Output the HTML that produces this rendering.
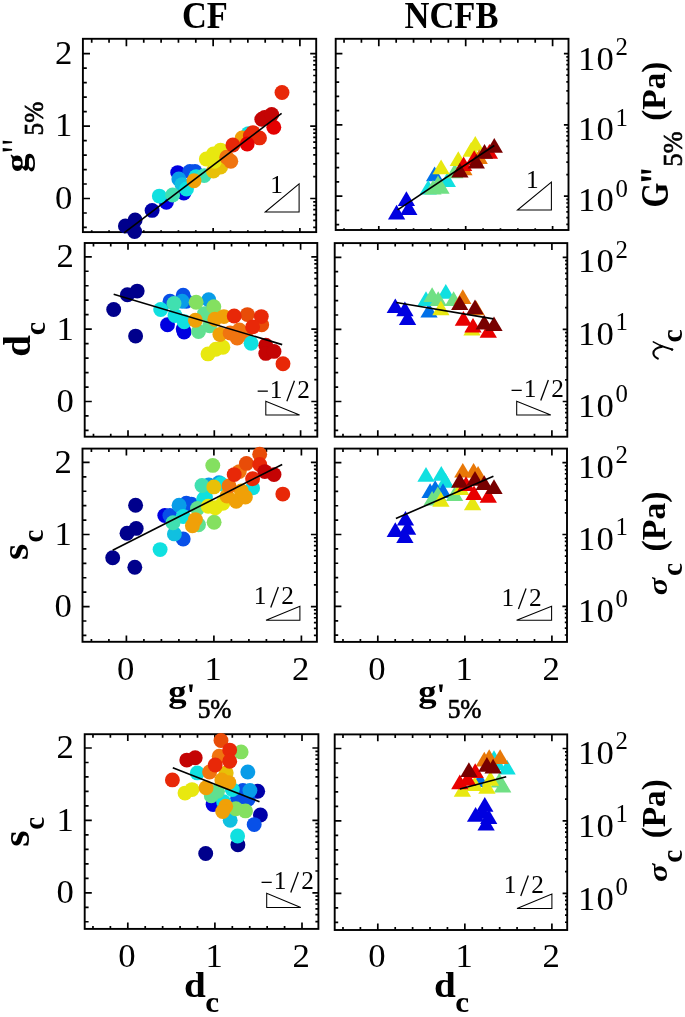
<!DOCTYPE html>
<html><head><meta charset="utf-8"><title>figure</title>
<style>html,body{margin:0;padding:0;background:#fff}svg{display:block}text{font-family:"Liberation Serif",serif;fill:#000}.b{font-weight:bold}</style></head><body>
<svg style="will-change:transform" width="685" height="1017" viewBox="0 0 685 1017">
<rect width="685" height="1017" fill="#fff"/>
<path d="M91.7 232.1v-1.8M91.7 38.8v4M109.05 232.1v-1.8M109.05 38.8v4M126.4 232.1v-4M126.4 38.8v7.5M143.75 232.1v-1.8M143.75 38.8v4M161.1 232.1v-1.8M161.1 38.8v4M178.45 232.1v-1.8M178.45 38.8v4M195.8 232.1v-1.8M195.8 38.8v4M213.15 232.1v-4M213.15 38.8v7.5M230.5 232.1v-1.8M230.5 38.8v4M247.85 232.1v-1.8M247.85 38.8v4M265.2 232.1v-1.8M265.2 38.8v4M282.55 232.1v-1.8M282.55 38.8v4M299.9 232.1v-4M299.9 38.8v7.5M82.9 227.46h3.9M82.9 212.98h3.9M82.9 198.5h7.1M82.9 184.02h3.9M82.9 169.54h3.9M82.9 155.06h3.9M82.9 140.58h3.9M82.9 126.1h7.1M82.9 111.62h3.9M82.9 97.14h3.9M82.9 82.66h3.9M82.9 68.18h3.9M82.9 53.7h7.1M316.2 227.31h-3M316.2 220.29h-3M316.2 214.56h-3M316.2 209.71h-3M316.2 205.52h-3M316.2 201.81h-3M316.2 198.5h-6M316.2 176.71h-3M316.2 163.96h-3M316.2 154.91h-3M316.2 147.89h-3M316.2 142.16h-3M316.2 137.31h-3M316.2 133.12h-3M316.2 129.41h-3M316.2 126.1h-6M316.2 104.31h-3M316.2 91.56h-3M316.2 82.51h-3M316.2 75.49h-3M316.2 69.76h-3M316.2 64.91h-3M316.2 60.72h-3M316.2 57.01h-3M316.2 53.7h-6" stroke="#000" stroke-width="1.7" fill="none"/>
<rect x="82.9" y="38.8" width="233.3" height="193.3" fill="none" stroke="#000" stroke-width="1.9"/>
<path d="M344.04 230v-1.8M344.04 38.8v4M361.42 230v-1.8M361.42 38.8v4M378.8 230v-4M378.8 38.8v7.5M396.18 230v-1.8M396.18 38.8v4M413.56 230v-1.8M413.56 38.8v4M430.94 230v-1.8M430.94 38.8v4M448.32 230v-1.8M448.32 38.8v4M465.7 230v-4M465.7 38.8v7.5M483.08 230v-1.8M483.08 38.8v4M500.46 230v-1.8M500.46 38.8v4M517.84 230v-1.8M517.84 38.8v4M535.22 230v-1.8M535.22 38.8v4M552.6 230v-4M552.6 38.8v7.5M335.7 224.6h3.5M335.7 210.35h3.5M335.7 196.1h6.7M335.7 181.85h3.5M335.7 167.6h3.5M335.7 153.35h3.5M335.7 139.1h3.5M335.7 124.85h6.7M335.7 110.6h3.5M335.7 96.35h3.5M335.7 82.1h3.5M335.7 67.85h3.5M335.7 53.6h6.7M568.5 224.45h-2.2M568.5 217.55h-2.2M568.5 211.91h-2.2M568.5 207.14h-2.2M568.5 203h-2.2M568.5 199.36h-2.2M568.5 196.1h-4.6M568.5 174.65h-2.2M568.5 162.11h-2.2M568.5 153.2h-2.2M568.5 146.3h-2.2M568.5 140.66h-2.2M568.5 135.89h-2.2M568.5 131.75h-2.2M568.5 128.11h-2.2M568.5 124.85h-4.6M568.5 103.4h-2.2M568.5 90.86h-2.2M568.5 81.95h-2.2M568.5 75.05h-2.2M568.5 69.41h-2.2M568.5 64.64h-2.2M568.5 60.5h-2.2M568.5 56.86h-2.2M568.5 53.6h-4.6" stroke="#000" stroke-width="1.7" fill="none"/>
<rect x="335.7" y="38.8" width="232.8" height="191.2" fill="none" stroke="#000" stroke-width="1.9"/>
<path d="M93.48 436.7v-2.9M93.48 243v3.5M110.74 436.7v-2.9M110.74 243v3.5M128 436.7v-6.4M128 243v6.8M145.26 436.7v-2.9M145.26 243v3.5M162.52 436.7v-2.9M162.52 243v3.5M179.78 436.7v-2.9M179.78 243v3.5M197.04 436.7v-2.9M197.04 243v3.5M214.3 436.7v-6.4M214.3 243v6.8M231.56 436.7v-2.9M231.56 243v3.5M248.82 436.7v-2.9M248.82 243v3.5M266.08 436.7v-2.9M266.08 243v3.5M283.34 436.7v-2.9M283.34 243v3.5M300.6 436.7v-6.4M300.6 243v6.8M84.7 430.44h3.9M84.7 415.97h3.9M84.7 401.5h7.1M84.7 387.03h3.9M84.7 372.56h3.9M84.7 358.09h3.9M84.7 343.62h3.9M84.7 329.15h7.1M84.7 314.68h3.9M84.7 300.21h3.9M84.7 285.74h3.9M84.7 271.27h3.9M84.7 256.8h7.1M317.3 430.29h-3M317.3 423.28h-3M317.3 417.55h-3M317.3 412.71h-3M317.3 408.51h-3M317.3 404.81h-3M317.3 401.5h-6M317.3 379.72h-3M317.3 366.98h-3M317.3 357.94h-3M317.3 350.93h-3M317.3 345.2h-3M317.3 340.36h-3M317.3 336.16h-3M317.3 332.46h-3M317.3 329.15h-6M317.3 307.37h-3M317.3 294.63h-3M317.3 285.59h-3M317.3 278.58h-3M317.3 272.85h-3M317.3 268.01h-3M317.3 263.81h-3M317.3 260.11h-3M317.3 256.8h-6" stroke="#000" stroke-width="1.7" fill="none"/>
<rect x="84.7" y="243" width="232.6" height="193.7" fill="none" stroke="#000" stroke-width="1.9"/>
<path d="M342.98 436.7v-2.9M342.98 243.1v3.5M360.39 436.7v-2.9M360.39 243.1v3.5M377.8 436.7v-6.4M377.8 243.1v6.8M395.21 436.7v-2.9M395.21 243.1v3.5M412.62 436.7v-2.9M412.62 243.1v3.5M430.03 436.7v-2.9M430.03 243.1v3.5M447.44 436.7v-2.9M447.44 243.1v3.5M464.85 436.7v-6.4M464.85 243.1v6.8M482.26 436.7v-2.9M482.26 243.1v3.5M499.67 436.7v-2.9M499.67 243.1v3.5M517.08 436.7v-2.9M517.08 243.1v3.5M534.49 436.7v-2.9M534.49 243.1v3.5M551.9 436.7v-6.4M551.9 243.1v6.8M334.7 430.34h3.5M334.7 415.92h3.5M334.7 401.5h6.7M334.7 387.08h3.5M334.7 372.66h3.5M334.7 358.24h3.5M334.7 343.82h3.5M334.7 329.4h6.7M334.7 314.98h3.5M334.7 300.56h3.5M334.7 286.14h3.5M334.7 271.72h3.5M334.7 257.3h6.7M567.3 430.19h-2.2M567.3 423.2h-2.2M567.3 417.5h-2.2M567.3 412.67h-2.2M567.3 408.49h-2.2M567.3 404.8h-2.2M567.3 401.5h-4.6M567.3 379.8h-2.2M567.3 367.1h-2.2M567.3 358.09h-2.2M567.3 351.1h-2.2M567.3 345.4h-2.2M567.3 340.57h-2.2M567.3 336.39h-2.2M567.3 332.7h-2.2M567.3 329.4h-4.6M567.3 307.7h-2.2M567.3 295h-2.2M567.3 285.99h-2.2M567.3 279h-2.2M567.3 273.3h-2.2M567.3 268.47h-2.2M567.3 264.29h-2.2M567.3 260.6h-2.2M567.3 257.3h-4.6" stroke="#000" stroke-width="1.7" fill="none"/>
<rect x="334.7" y="243.1" width="232.6" height="193.6" fill="none" stroke="#000" stroke-width="1.9"/>
<path d="M91.4 641.8v-2.9M91.4 448.6v3.5M108.9 641.8v-2.9M108.9 448.6v3.5M126.4 641.8v-6.4M126.4 448.6v6.8M143.9 641.8v-2.9M143.9 448.6v3.5M161.4 641.8v-2.9M161.4 448.6v3.5M178.9 641.8v-2.9M178.9 448.6v3.5M196.4 641.8v-2.9M196.4 448.6v3.5M213.9 641.8v-6.4M213.9 448.6v6.8M231.4 641.8v-2.9M231.4 448.6v3.5M248.9 641.8v-2.9M248.9 448.6v3.5M266.4 641.8v-2.9M266.4 448.6v3.5M283.9 641.8v-2.9M283.9 448.6v3.5M301.4 641.8v-6.4M301.4 448.6v6.8M82.5 635.44h3.9M82.5 621.02h3.9M82.5 606.6h7.1M82.5 592.18h3.9M82.5 577.76h3.9M82.5 563.34h3.9M82.5 548.92h3.9M82.5 534.5h7.1M82.5 520.08h3.9M82.5 505.66h3.9M82.5 491.24h3.9M82.5 476.82h3.9M82.5 462.4h7.1M316.9 635.29h-3M316.9 628.3h-3M316.9 622.6h-3M316.9 617.77h-3M316.9 613.59h-3M316.9 609.9h-3M316.9 606.6h-6M316.9 584.9h-3M316.9 572.2h-3M316.9 563.19h-3M316.9 556.2h-3M316.9 550.5h-3M316.9 545.67h-3M316.9 541.49h-3M316.9 537.8h-3M316.9 534.5h-6M316.9 512.8h-3M316.9 500.1h-3M316.9 491.09h-3M316.9 484.1h-3M316.9 478.4h-3M316.9 473.57h-3M316.9 469.39h-3M316.9 465.7h-3M316.9 462.4h-6" stroke="#000" stroke-width="1.7" fill="none"/>
<rect x="82.5" y="448.6" width="234.4" height="193.2" fill="none" stroke="#000" stroke-width="1.9"/>
<path d="M342.98 641.9v-2.9M342.98 448.6v3.5M360.39 641.9v-2.9M360.39 448.6v3.5M377.8 641.9v-6.4M377.8 448.6v6.8M395.21 641.9v-2.9M395.21 448.6v3.5M412.62 641.9v-2.9M412.62 448.6v3.5M430.03 641.9v-2.9M430.03 448.6v3.5M447.44 641.9v-2.9M447.44 448.6v3.5M464.85 641.9v-6.4M464.85 448.6v6.8M482.26 641.9v-2.9M482.26 448.6v3.5M499.67 641.9v-2.9M499.67 448.6v3.5M517.08 641.9v-2.9M517.08 448.6v3.5M534.49 641.9v-2.9M534.49 448.6v3.5M551.9 641.9v-6.4M551.9 448.6v6.8M334.7 635.16h3.5M334.7 620.78h3.5M334.7 606.4h6.7M334.7 592.02h3.5M334.7 577.64h3.5M334.7 563.26h3.5M334.7 548.88h3.5M334.7 534.5h6.7M334.7 520.12h3.5M334.7 505.74h3.5M334.7 491.36h3.5M334.7 476.98h3.5M334.7 462.6h6.7M567 635.01h-2.2M567 628.04h-2.2M567 622.35h-2.2M567 617.54h-2.2M567 613.37h-2.2M567 609.69h-2.2M567 606.4h-4.6M567 584.76h-2.2M567 572.09h-2.2M567 563.11h-2.2M567 556.14h-2.2M567 550.45h-2.2M567 545.64h-2.2M567 541.47h-2.2M567 537.79h-2.2M567 534.5h-4.6M567 512.86h-2.2M567 500.19h-2.2M567 491.21h-2.2M567 484.24h-2.2M567 478.55h-2.2M567 473.74h-2.2M567 469.57h-2.2M567 465.89h-2.2M567 462.6h-4.6" stroke="#000" stroke-width="1.7" fill="none"/>
<rect x="334.7" y="448.6" width="232.3" height="193.3" fill="none" stroke="#000" stroke-width="1.9"/>
<path d="M92.96 928.9v-2.9M92.96 734.2v3.5M110.38 928.9v-2.9M110.38 734.2v3.5M127.8 928.9v-6.4M127.8 734.2v6.8M145.22 928.9v-2.9M145.22 734.2v3.5M162.64 928.9v-2.9M162.64 734.2v3.5M180.06 928.9v-2.9M180.06 734.2v3.5M197.48 928.9v-2.9M197.48 734.2v3.5M214.9 928.9v-6.4M214.9 734.2v6.8M232.32 928.9v-2.9M232.32 734.2v3.5M249.74 928.9v-2.9M249.74 734.2v3.5M267.16 928.9v-2.9M267.16 734.2v3.5M284.58 928.9v-2.9M284.58 734.2v3.5M302 928.9v-6.4M302 734.2v6.8M84.7 921.76h3.9M84.7 907.28h3.9M84.7 892.8h7.1M84.7 878.32h3.9M84.7 863.84h3.9M84.7 849.36h3.9M84.7 834.88h3.9M84.7 820.4h7.1M84.7 805.92h3.9M84.7 791.44h3.9M84.7 776.96h3.9M84.7 762.48h3.9M84.7 748h7.1M318.4 921.61h-3M318.4 914.59h-3M318.4 908.86h-3M318.4 904.01h-3M318.4 899.82h-3M318.4 896.11h-3M318.4 892.8h-6M318.4 871.01h-3M318.4 858.26h-3M318.4 849.21h-3M318.4 842.19h-3M318.4 836.46h-3M318.4 831.61h-3M318.4 827.42h-3M318.4 823.71h-3M318.4 820.4h-6M318.4 798.61h-3M318.4 785.86h-3M318.4 776.81h-3M318.4 769.79h-3M318.4 764.06h-3M318.4 759.21h-3M318.4 755.02h-3M318.4 751.31h-3M318.4 748h-6" stroke="#000" stroke-width="1.7" fill="none"/>
<rect x="84.7" y="734.2" width="233.7" height="194.7" fill="none" stroke="#000" stroke-width="1.9"/>
<path d="M342.98 930v-2.9M342.98 734.4v3.5M360.39 930v-2.9M360.39 734.4v3.5M377.8 930v-6.4M377.8 734.4v6.8M395.21 930v-2.9M395.21 734.4v3.5M412.62 930v-2.9M412.62 734.4v3.5M430.03 930v-2.9M430.03 734.4v3.5M447.44 930v-2.9M447.44 734.4v3.5M464.85 930v-6.4M464.85 734.4v6.8M482.26 930v-2.9M482.26 734.4v3.5M499.67 930v-2.9M499.67 734.4v3.5M517.08 930v-2.9M517.08 734.4v3.5M534.49 930v-2.9M534.49 734.4v3.5M551.9 930v-6.4M551.9 734.4v6.8M334.7 922.38h3.5M334.7 907.89h3.5M334.7 893.4h6.7M334.7 878.91h3.5M334.7 864.42h3.5M334.7 849.93h3.5M334.7 835.44h3.5M334.7 820.95h6.7M334.7 806.46h3.5M334.7 791.97h3.5M334.7 777.48h3.5M334.7 762.99h3.5M334.7 748.5h6.7M567.2 922.23h-2.2M567.2 915.21h-2.2M567.2 909.47h-2.2M567.2 904.62h-2.2M567.2 900.42h-2.2M567.2 896.72h-2.2M567.2 893.4h-4.6M567.2 871.59h-2.2M567.2 858.83h-2.2M567.2 849.78h-2.2M567.2 842.76h-2.2M567.2 837.02h-2.2M567.2 832.17h-2.2M567.2 827.97h-2.2M567.2 824.27h-2.2M567.2 820.95h-4.6M567.2 799.14h-2.2M567.2 786.38h-2.2M567.2 777.33h-2.2M567.2 770.31h-2.2M567.2 764.57h-2.2M567.2 759.72h-2.2M567.2 755.52h-2.2M567.2 751.82h-2.2M567.2 748.5h-4.6" stroke="#000" stroke-width="1.7" fill="none"/>
<rect x="334.7" y="734.4" width="232.5" height="195.6" fill="none" stroke="#000" stroke-width="1.9"/>
<g id="p11">
<circle cx="125.4" cy="226" r="7.45" fill="#00008c"/>
<circle cx="135.1" cy="219.9" r="7.45" fill="#00008c"/>
<circle cx="134.6" cy="231.5" r="7.45" fill="#00008c"/>
<circle cx="152.1" cy="210.4" r="7.45" fill="#0000a8"/>
<circle cx="166.4" cy="202.2" r="7.45" fill="#0000e0"/>
<circle cx="183.8" cy="193" r="7.45" fill="#0000e0"/>
<circle cx="177.7" cy="172.6" r="7.45" fill="#0000e0"/>
<circle cx="189.9" cy="171.5" r="7.45" fill="#0850e8"/>
<circle cx="195" cy="171.5" r="7.45" fill="#0850e8"/>
<circle cx="178.8" cy="179" r="7.45" fill="#089ce8"/>
<circle cx="182" cy="184.6" r="7.45" fill="#10c0e0"/>
<circle cx="159.3" cy="196.1" r="7.45" fill="#10e0e0"/>
<circle cx="186.5" cy="189" r="7.45" fill="#10e0e0"/>
<circle cx="196.1" cy="176.6" r="7.45" fill="#10e0e0"/>
<circle cx="248.4" cy="133.6" r="7.45" fill="#10e0e0"/>
<circle cx="172.6" cy="195" r="7.45" fill="#40e0b0"/>
<circle cx="204.2" cy="175.6" r="7.45" fill="#40e0b0"/>
<circle cx="213.4" cy="171" r="7.45" fill="#e8c008"/>
<circle cx="220.6" cy="167" r="7.45" fill="#e8c008"/>
<circle cx="206.3" cy="159" r="7.45" fill="#e8e810"/>
<circle cx="213.4" cy="154" r="7.45" fill="#e8e810"/>
<circle cx="220.6" cy="150.1" r="7.45" fill="#e8e810"/>
<circle cx="214.5" cy="161.3" r="7.45" fill="#e8e810"/>
<circle cx="194" cy="180.7" r="7.45" fill="#f0a008"/>
<circle cx="242.1" cy="137.9" r="7.45" fill="#f0a008"/>
<circle cx="226.7" cy="157.2" r="7.45" fill="#f07410"/>
<circle cx="230.8" cy="161.3" r="7.45" fill="#f07410"/>
<circle cx="232.9" cy="145" r="7.45" fill="#e82808"/>
<circle cx="250.3" cy="135.8" r="7.45" fill="#e82808"/>
<circle cx="259.5" cy="137.9" r="7.45" fill="#e82808"/>
<circle cx="253" cy="132.6" r="7.45" fill="#e82808"/>
<circle cx="247.2" cy="144" r="7.45" fill="#e40000"/>
<circle cx="273.8" cy="127.3" r="7.45" fill="#e40000"/>
<circle cx="261.8" cy="119.3" r="7.45" fill="#c40404"/>
<circle cx="264.6" cy="117.4" r="7.45" fill="#c40404"/>
<circle cx="271.7" cy="114.4" r="7.45" fill="#c40404"/>
<circle cx="282" cy="92.5" r="7.45" fill="#e82808"/>
<path d="M124.1 232.8L281.6 113.4" stroke="#000" stroke-width="1.65" fill="none"/>
<path d="M265.2 212L299.1 212L299.1 183.9Z" stroke="#000" stroke-width="1.05" fill="none" stroke-linejoin="miter"/>
<text x="270.27" y="192.95" font-size="25.3">1</text>
</g>
<g id="p12">
<path d="M397.75 206L415.05 206L406.4 191.3Z" fill="#0000e0"/>
<path d="M387.95 219.5L405.25 219.5L396.6 204.8Z" fill="#0000e0"/>
<path d="M400.15 215L417.45 215L408.8 200.3Z" fill="#0000e0"/>
<path d="M425.95 181.3L443.25 181.3L434.6 166.6Z" fill="#0070e8"/>
<path d="M419.55 194.6L436.85 194.6L428.2 179.9Z" fill="#10e0e0"/>
<path d="M438.65 187L455.95 187L447.3 172.3Z" fill="#10e0e0"/>
<path d="M424.35 194.6L441.65 194.6L433 179.9Z" fill="#70e084"/>
<path d="M432.35 193.8L449.65 193.8L441 179.1Z" fill="#70e084"/>
<path d="M429.35 190.2L446.65 190.2L438 175.5Z" fill="#70e084"/>
<path d="M446.15 178.2L463.45 178.2L454.8 163.5Z" fill="#70e084"/>
<path d="M432.45 174.2L449.75 174.2L441.1 159.5Z" fill="#e8e810"/>
<path d="M449.65 166L466.95 166L458.3 151.3Z" fill="#e8e810"/>
<path d="M462.55 156.8L479.85 156.8L471.2 142.1Z" fill="#e8e810"/>
<path d="M466.65 150.7L483.95 150.7L475.3 136Z" fill="#e8e810"/>
<path d="M455.25 175.2L472.55 175.2L463.9 160.5Z" fill="#e87808"/>
<path d="M470.55 163.9L487.85 163.9L479.2 149.2Z" fill="#e87808"/>
<path d="M454.95 171.1L472.25 171.1L463.6 156.4Z" fill="#e80000"/>
<path d="M465.55 165L482.85 165L474.2 150.3Z" fill="#e80000"/>
<path d="M480.75 158.8L498.05 158.8L489.4 144.1Z" fill="#e80000"/>
<path d="M451.25 177.6L468.55 177.6L459.9 162.9Z" fill="#780000"/>
<path d="M467.65 168.6L484.95 168.6L476.3 153.9Z" fill="#780000"/>
<path d="M475.85 158.8L493.15 158.8L484.5 144.1Z" fill="#780000"/>
<path d="M485.65 152.7L502.95 152.7L494.3 138Z" fill="#780000"/>
<path d="M397.6 209.9L494.3 145.5" stroke="#000" stroke-width="1.65" fill="none"/>
<path d="M517.5 210L551.4 210L551.4 182.2Z" stroke="#000" stroke-width="1.05" fill="none" stroke-linejoin="miter"/>
<text x="526.07" y="188.25" font-size="25.3">1</text>
</g>
<g id="p21">
<circle cx="113.7" cy="309.5" r="7.45" fill="#00008c"/>
<circle cx="127.4" cy="294.8" r="7.45" fill="#00008c"/>
<circle cx="137.2" cy="291.1" r="7.45" fill="#00008c"/>
<circle cx="135.6" cy="336.1" r="7.45" fill="#00008c"/>
<circle cx="170" cy="301.3" r="7.45" fill="#0850e8"/>
<circle cx="167.5" cy="324.8" r="7.45" fill="#0000e0"/>
<circle cx="183.2" cy="328.9" r="7.45" fill="#0000e0"/>
<circle cx="184.1" cy="332" r="7.45" fill="#0000e0"/>
<circle cx="183.2" cy="295.2" r="7.45" fill="#0850e8"/>
<circle cx="186.3" cy="301.3" r="7.45" fill="#0850e8"/>
<circle cx="182.2" cy="301.3" r="7.45" fill="#089ce8"/>
<circle cx="208.7" cy="299.8" r="7.45" fill="#089ce8"/>
<circle cx="160.7" cy="309.5" r="7.45" fill="#10e0e0"/>
<circle cx="175" cy="315.6" r="7.45" fill="#10e0e0"/>
<circle cx="184.2" cy="321.8" r="7.45" fill="#10e0e0"/>
<circle cx="174" cy="303.4" r="7.45" fill="#40e0b0"/>
<circle cx="204.5" cy="313.6" r="7.45" fill="#60e090"/>
<circle cx="198.5" cy="331.5" r="7.45" fill="#60e090"/>
<circle cx="209.7" cy="325.8" r="7.45" fill="#60e090"/>
<circle cx="196.1" cy="302.3" r="7.45" fill="#84e060"/>
<circle cx="213.8" cy="306.7" r="7.45" fill="#84e060"/>
<circle cx="208" cy="353.9" r="7.45" fill="#e8e810"/>
<circle cx="215.8" cy="349.3" r="7.45" fill="#e8e810"/>
<circle cx="222.9" cy="347.3" r="7.45" fill="#e8e810"/>
<circle cx="195.4" cy="320.2" r="7.45" fill="#f0a008"/>
<circle cx="214.8" cy="319.2" r="7.45" fill="#f0a008"/>
<circle cx="223.9" cy="316.6" r="7.45" fill="#f0a008"/>
<circle cx="219.9" cy="334.5" r="7.45" fill="#f0a008"/>
<circle cx="230.1" cy="333" r="7.45" fill="#f07410"/>
<circle cx="239.3" cy="329.9" r="7.45" fill="#f07410"/>
<circle cx="245.4" cy="334" r="7.45" fill="#f07410"/>
<circle cx="237.2" cy="338.1" r="7.45" fill="#f07410"/>
<circle cx="247.4" cy="314.6" r="7.45" fill="#e84c08"/>
<circle cx="261.7" cy="324.8" r="7.45" fill="#e84c08"/>
<circle cx="251.1" cy="343.2" r="7.45" fill="#10e0e0"/>
<circle cx="234.2" cy="316" r="7.45" fill="#e82808"/>
<circle cx="261.3" cy="316.6" r="7.45" fill="#e82808"/>
<circle cx="252.6" cy="326.9" r="7.45" fill="#e82808"/>
<circle cx="283" cy="363.7" r="7.45" fill="#e82808"/>
<circle cx="265.8" cy="345.3" r="7.45" fill="#c40404"/>
<circle cx="265.8" cy="353.4" r="7.45" fill="#c40404"/>
<circle cx="274" cy="351.4" r="7.45" fill="#c40404"/>
<path d="M113.7 294.2L282.2 344.6" stroke="#000" stroke-width="1.65" fill="none"/>
<path d="M265.8 401.3L265.8 415L299.6 415Z" stroke="#000" stroke-width="1.05" fill="none" stroke-linejoin="miter"/>
<text x="269.87" y="398.25" font-size="25.3">1</text>
<text x="297.34" y="398.25" font-size="25.3">2</text>
<path d="M286.85 401.25L294.45 380.85" stroke="#000" stroke-width="1.3" fill="none"/>
<path d="M257.65 391.15h10.2" stroke="#000" stroke-width="1.3" fill="none"/>
</g>
<g id="p22">
<path d="M386.65 313.1L403.95 313.1L395.3 298.4Z" fill="#0000e0"/>
<path d="M396.25 316.2L413.55 316.2L404.9 301.5Z" fill="#0000e0"/>
<path d="M398.95 325L416.25 325L407.6 310.3Z" fill="#0000e0"/>
<path d="M420.35 317.6L437.65 317.6L429 302.9Z" fill="#0070e8"/>
<path d="M417.35 306L434.65 306L426 291.3Z" fill="#10e0e0"/>
<path d="M437.15 298.8L454.45 298.8L445.8 284.1Z" fill="#10e0e0"/>
<path d="M423.45 301.9L440.75 301.9L432.1 287.2Z" fill="#70e084"/>
<path d="M429.55 306L446.85 306L438.2 291.3Z" fill="#70e084"/>
<path d="M444.95 306L462.25 306L453.6 291.3Z" fill="#70e084"/>
<path d="M432.25 315.2L449.55 315.2L440.9 300.5Z" fill="#e8e810"/>
<path d="M463.35 335.6L480.65 335.6L472 320.9Z" fill="#e8e810"/>
<path d="M454.15 303.9L471.45 303.9L462.8 289.2Z" fill="#e87808"/>
<path d="M467.45 315.2L484.75 315.2L476.1 300.5Z" fill="#e87808"/>
<path d="M454.75 325.8L472.05 325.8L463.4 311.1Z" fill="#e80000"/>
<path d="M464.35 332.6L481.65 332.6L473 317.9Z" fill="#e80000"/>
<path d="M479.65 337.7L496.95 337.7L488.3 323Z" fill="#e80000"/>
<path d="M451.05 310.1L468.35 310.1L459.7 295.4Z" fill="#780000"/>
<path d="M466.35 314.2L483.65 314.2L475 299.5Z" fill="#780000"/>
<path d="M475.55 329.5L492.85 329.5L484.2 314.8Z" fill="#780000"/>
<path d="M485.35 331.1L502.65 331.1L494 316.4Z" fill="#780000"/>
<path d="M396.3 302.5L493.4 318.9" stroke="#000" stroke-width="1.65" fill="none"/>
<path d="M516.7 401.3L516.7 415L550.8 415Z" stroke="#000" stroke-width="1.05" fill="none" stroke-linejoin="miter"/>
<text x="523.77" y="397.45" font-size="25.3">1</text>
<text x="551.24" y="397.45" font-size="25.3">2</text>
<path d="M540.75 400.45L548.35 380.05" stroke="#000" stroke-width="1.3" fill="none"/>
<path d="M511.55 390.35h10.2" stroke="#000" stroke-width="1.3" fill="none"/>
</g>
<g id="p31">
<circle cx="135.6" cy="505.3" r="7.45" fill="#00008c"/>
<circle cx="136.2" cy="528.4" r="7.45" fill="#00008c"/>
<circle cx="127" cy="533.3" r="7.45" fill="#00008c"/>
<circle cx="112.7" cy="557.8" r="7.45" fill="#00008c"/>
<circle cx="134.8" cy="567.2" r="7.45" fill="#00008c"/>
<circle cx="164.8" cy="515.5" r="7.45" fill="#0000e0"/>
<circle cx="183.2" cy="539" r="7.45" fill="#0850e8"/>
<circle cx="169.9" cy="515.5" r="7.45" fill="#0850e8"/>
<circle cx="186.3" cy="503.2" r="7.45" fill="#0850e8"/>
<circle cx="191.4" cy="504.3" r="7.45" fill="#0850e8"/>
<circle cx="179.1" cy="505.3" r="7.45" fill="#089ce8"/>
<circle cx="208.8" cy="484.9" r="7.45" fill="#089ce8"/>
<circle cx="219" cy="482.8" r="7.45" fill="#089ce8"/>
<circle cx="174.4" cy="533.9" r="7.45" fill="#10c0e0"/>
<circle cx="160.1" cy="549.6" r="7.45" fill="#10e0e0"/>
<circle cx="183.2" cy="516.5" r="7.45" fill="#10e0e0"/>
<circle cx="203.6" cy="499.2" r="7.45" fill="#10e0e0"/>
<circle cx="220.9" cy="483.8" r="7.45" fill="#10e0e0"/>
<circle cx="252.6" cy="487.9" r="7.45" fill="#10e0e0"/>
<circle cx="205.5" cy="497.1" r="7.45" fill="#10e0e0"/>
<circle cx="173" cy="522.7" r="7.45" fill="#40e0b0"/>
<circle cx="202" cy="485.5" r="7.45" fill="#40e0b0"/>
<circle cx="197.5" cy="508.4" r="7.45" fill="#60e090"/>
<circle cx="198.5" cy="524.7" r="7.45" fill="#60e090"/>
<circle cx="212.8" cy="465.4" r="7.45" fill="#84e060"/>
<circle cx="214.1" cy="522.3" r="7.45" fill="#84e060"/>
<circle cx="213.8" cy="486.9" r="7.45" fill="#e8c008"/>
<circle cx="208.2" cy="506.3" r="7.45" fill="#e8e810"/>
<circle cx="215.3" cy="507.8" r="7.45" fill="#e8e810"/>
<circle cx="222.9" cy="503.2" r="7.45" fill="#e8e810"/>
<circle cx="195.4" cy="519.6" r="7.45" fill="#f0a008"/>
<circle cx="192.4" cy="525.7" r="7.45" fill="#f0a008"/>
<circle cx="227" cy="496.1" r="7.45" fill="#f0a008"/>
<circle cx="236.2" cy="501.2" r="7.45" fill="#f0a008"/>
<circle cx="245.4" cy="497.1" r="7.45" fill="#f0a008"/>
<circle cx="241.3" cy="491" r="7.45" fill="#f0a008"/>
<circle cx="229" cy="485.9" r="7.45" fill="#f07410"/>
<circle cx="239.3" cy="471.6" r="7.45" fill="#f07410"/>
<circle cx="246.4" cy="463.4" r="7.45" fill="#e84c08"/>
<circle cx="259.7" cy="454.2" r="7.45" fill="#e84c08"/>
<circle cx="234.2" cy="474.6" r="7.45" fill="#e82808"/>
<circle cx="252.6" cy="478.7" r="7.45" fill="#e82808"/>
<circle cx="259.7" cy="464.4" r="7.45" fill="#e82808"/>
<circle cx="282.8" cy="494.1" r="7.45" fill="#e82808"/>
<circle cx="264.8" cy="471.6" r="7.45" fill="#c40404"/>
<circle cx="274" cy="474.6" r="7.45" fill="#c40404"/>
<path d="M112.7 550.3L282.2 464.4" stroke="#000" stroke-width="1.65" fill="none"/>
<path d="M266 620.3L299.9 620.3L299.9 606.3Z" stroke="#000" stroke-width="1.05" fill="none" stroke-linejoin="miter"/>
<text x="253.77" y="604.45" font-size="25.3">1</text>
<text x="281.24" y="604.45" font-size="25.3">2</text>
<path d="M270.75 607.45L278.35 587.05" stroke="#000" stroke-width="1.3" fill="none"/>
</g>
<g id="p32">
<path d="M396.85 525.6L414.15 525.6L405.5 510.9Z" fill="#0000e0"/>
<path d="M386.65 536.9L403.95 536.9L395.3 522.2Z" fill="#0000e0"/>
<path d="M398.95 534.8L416.25 534.8L407.6 520.1Z" fill="#0000e0"/>
<path d="M396.25 543L413.55 543L404.9 528.3Z" fill="#0000e0"/>
<path d="M417.35 481.7L434.65 481.7L426 467Z" fill="#10e0e0"/>
<path d="M432.65 480.7L449.95 480.7L441.3 466Z" fill="#10e0e0"/>
<path d="M436.75 487.8L454.05 487.8L445.4 473.1Z" fill="#10e0e0"/>
<path d="M421.45 498L438.75 498L430.1 483.3Z" fill="#0070e8"/>
<path d="M426.55 495L443.85 495L435.2 480.3Z" fill="#0070e8"/>
<path d="M434.35 498L451.65 498L443 483.3Z" fill="#0070e8"/>
<path d="M429.15 501.1L446.45 501.1L437.8 486.4Z" fill="#70e084"/>
<path d="M423.45 505.6L440.75 505.6L432.1 490.9Z" fill="#70e084"/>
<path d="M445.95 501.1L463.25 501.1L454.6 486.4Z" fill="#70e084"/>
<path d="M432.25 506.8L449.55 506.8L440.9 492.1Z" fill="#e8e810"/>
<path d="M463.95 510.3L481.25 510.3L472.6 495.6Z" fill="#e8e810"/>
<path d="M452.05 495L469.35 495L460.7 480.3Z" fill="#e8e810"/>
<path d="M454.15 477.6L471.45 477.6L462.8 462.9Z" fill="#e87808"/>
<path d="M464.95 477.6L482.25 477.6L473.6 462.9Z" fill="#e87808"/>
<path d="M469.45 480.7L486.75 480.7L478.1 466Z" fill="#e87808"/>
<path d="M457.35 491L474.65 491L466 476.3Z" fill="#e80000"/>
<path d="M465.35 500.1L482.65 500.1L474 485.4Z" fill="#e80000"/>
<path d="M479.65 502.7L496.95 502.7L488.3 488Z" fill="#e80000"/>
<path d="M451.05 487.8L468.35 487.8L459.7 473.1Z" fill="#780000"/>
<path d="M466.35 485.8L483.65 485.8L475 471.1Z" fill="#780000"/>
<path d="M475.55 489.9L492.85 489.9L484.2 475.2Z" fill="#780000"/>
<path d="M485.35 493.9L502.65 493.9L494 479.2Z" fill="#780000"/>
<path d="M395.9 518.5L493.4 476.2" stroke="#000" stroke-width="1.65" fill="none"/>
<path d="M516.6 620.3L551.6 620.3L551.6 606.3Z" stroke="#000" stroke-width="1.05" fill="none" stroke-linejoin="miter"/>
<text x="501.47" y="605.95" font-size="25.3">1</text>
<text x="528.94" y="605.95" font-size="25.3">2</text>
<path d="M518.45 608.95L526.05 588.55" stroke="#000" stroke-width="1.3" fill="none"/>
</g>
<g id="p41">
<circle cx="205.7" cy="853.5" r="7.45" fill="#00008c"/>
<circle cx="237.9" cy="844.8" r="7.45" fill="#00008c"/>
<circle cx="257.7" cy="791.3" r="7.45" fill="#0000a8"/>
<circle cx="260.4" cy="815" r="7.45" fill="#0000a8"/>
<circle cx="213.1" cy="804.5" r="7.45" fill="#0000e0"/>
<circle cx="242.9" cy="790.4" r="7.45" fill="#0850e8"/>
<circle cx="254.2" cy="824.6" r="7.45" fill="#0850e8"/>
<circle cx="237.6" cy="798.3" r="7.45" fill="#0850e8"/>
<circle cx="248.1" cy="799.2" r="7.45" fill="#0850e8"/>
<circle cx="247.8" cy="772" r="7.45" fill="#089ce8"/>
<circle cx="249.9" cy="790.4" r="7.45" fill="#089ce8"/>
<circle cx="230.2" cy="820.2" r="7.45" fill="#10c0e0"/>
<circle cx="197.3" cy="772.9" r="7.45" fill="#10e0e0"/>
<circle cx="237.6" cy="836" r="7.45" fill="#10e0e0"/>
<circle cx="223.6" cy="801.8" r="7.45" fill="#10e0e0"/>
<circle cx="232.3" cy="789.6" r="7.45" fill="#10e0e0"/>
<circle cx="211.3" cy="795.7" r="7.45" fill="#60e090"/>
<circle cx="217.5" cy="791.3" r="7.45" fill="#60e090"/>
<circle cx="241.1" cy="751.9" r="7.45" fill="#84e060"/>
<circle cx="245.5" cy="810.9" r="7.45" fill="#84e060"/>
<circle cx="235.8" cy="808.8" r="7.45" fill="#84e060"/>
<circle cx="185" cy="793.1" r="7.45" fill="#e8e810"/>
<circle cx="192" cy="789.6" r="7.45" fill="#e8e810"/>
<circle cx="226.2" cy="772.9" r="7.45" fill="#e8c008"/>
<circle cx="206.1" cy="787.8" r="7.45" fill="#f0a008"/>
<circle cx="221.8" cy="779.9" r="7.45" fill="#f0a008"/>
<circle cx="228.8" cy="782.6" r="7.45" fill="#f0a008"/>
<circle cx="225.7" cy="806.2" r="7.45" fill="#f0a008"/>
<circle cx="222.7" cy="811.5" r="7.45" fill="#f0a008"/>
<circle cx="209.6" cy="772" r="7.45" fill="#f07410"/>
<circle cx="219.2" cy="756.3" r="7.45" fill="#f07410"/>
<circle cx="221" cy="740.5" r="7.45" fill="#e84c08"/>
<circle cx="229.7" cy="750.1" r="7.45" fill="#e82808"/>
<circle cx="229.7" cy="761.2" r="7.45" fill="#e82808"/>
<circle cx="215.2" cy="765" r="7.45" fill="#e82808"/>
<circle cx="172.4" cy="779.9" r="7.45" fill="#e82808"/>
<circle cx="186.8" cy="760.1" r="7.45" fill="#c40404"/>
<circle cx="195.2" cy="757.7" r="7.45" fill="#c40404"/>
<path d="M172.8 767.7L259.5 801.8" stroke="#000" stroke-width="1.65" fill="none"/>
<path d="M266.7 893.3L266.7 907.5L300.8 907.5Z" stroke="#000" stroke-width="1.05" fill="none" stroke-linejoin="miter"/>
<text x="273.77" y="889.45" font-size="25.3">1</text>
<text x="301.24" y="889.45" font-size="25.3">2</text>
<path d="M290.75 892.45L298.35 872.05" stroke="#000" stroke-width="1.3" fill="none"/>
<path d="M261.55 882.35h10.2" stroke="#000" stroke-width="1.3" fill="none"/>
</g>
<g id="p42">
<path d="M476.15 811.7L493.45 811.7L484.8 797Z" fill="#0000e0"/>
<path d="M473.95 818.7L491.25 818.7L482.6 804Z" fill="#0000e0"/>
<path d="M466.95 821.7L484.25 821.7L475.6 807Z" fill="#0000e0"/>
<path d="M480.05 824L497.35 824L488.7 809.3Z" fill="#0000e0"/>
<path d="M477.45 830.5L494.75 830.5L486.1 815.8Z" fill="#0000e0"/>
<path d="M485.35 765L502.65 765L494 750.3Z" fill="#10e0e0"/>
<path d="M498.45 774.4L515.75 774.4L507.1 759.7Z" fill="#10e0e0"/>
<path d="M488.35 770L505.65 770L497 755.3Z" fill="#10e0e0"/>
<path d="M494.05 792.5L511.35 792.5L502.7 777.8Z" fill="#70e084"/>
<path d="M490.55 787.6L507.85 787.6L499.2 772.9Z" fill="#70e084"/>
<path d="M471.35 787L488.65 787L480 772.3Z" fill="#0070e8"/>
<path d="M453.75 796.7L471.05 796.7L462.4 782Z" fill="#e8e810"/>
<path d="M478.25 793.7L495.55 793.7L486.9 779Z" fill="#e8e810"/>
<path d="M481.75 785.8L499.05 785.8L490.4 771.1Z" fill="#e8e810"/>
<path d="M466.05 791.1L483.35 791.1L474.7 776.4Z" fill="#e8e810"/>
<path d="M480.55 763.9L497.85 763.9L489.2 749.2Z" fill="#e87808"/>
<path d="M491.45 763.9L508.75 763.9L500.1 749.2Z" fill="#e87808"/>
<path d="M475.65 766.5L492.95 766.5L484.3 751.8Z" fill="#e87808"/>
<path d="M451.15 789.3L468.45 789.3L459.8 774.6Z" fill="#e80000"/>
<path d="M466.55 777.9L483.85 777.9L475.2 763.2Z" fill="#e80000"/>
<path d="M459.05 785.8L476.35 785.8L467.7 771.1Z" fill="#e80000"/>
<path d="M460.25 777L477.55 777L468.9 762.3Z" fill="#780000"/>
<path d="M478.25 771.8L495.55 771.8L486.9 757.1Z" fill="#780000"/>
<path d="M484.45 773.5L501.75 773.5L493.1 758.8Z" fill="#780000"/>
<path d="M459.8 789L506.2 776.7" stroke="#000" stroke-width="1.65" fill="none"/>
<path d="M517 908.4L551.9 908.4L551.9 894.1Z" stroke="#000" stroke-width="1.05" fill="none" stroke-linejoin="miter"/>
<text x="503.77" y="892.95" font-size="25.3">1</text>
<text x="531.24" y="892.95" font-size="25.3">2</text>
<path d="M520.75 895.95L528.35 875.55" stroke="#000" stroke-width="1.3" fill="none"/>
</g>
<text x="72.4" y="63.8" font-size="34.7" text-anchor="end">2</text>
<text x="72.4" y="136.2" font-size="34.7" text-anchor="end">1</text>
<text x="72.4" y="208.6" font-size="34.7" text-anchor="end">0</text>
<text x="73.8" y="266.9" font-size="34.7" text-anchor="end">2</text>
<text x="73.8" y="339.5" font-size="34.7" text-anchor="end">1</text>
<text x="73.8" y="411.6" font-size="34.7" text-anchor="end">0</text>
<text x="71.8" y="472.5" font-size="34.7" text-anchor="end">2</text>
<text x="71.8" y="544.5" font-size="34.7" text-anchor="end">1</text>
<text x="71.8" y="616.7" font-size="34.7" text-anchor="end">0</text>
<text x="73.8" y="758.1" font-size="34.7" text-anchor="end">2</text>
<text x="73.8" y="830.5" font-size="34.7" text-anchor="end">1</text>
<text x="73.8" y="902.9" font-size="34.7" text-anchor="end">0</text>
<text x="125.6" y="680.3" font-size="34.7" text-anchor="middle">0</text>
<text x="213.1" y="680.3" font-size="34.7" text-anchor="middle">1</text>
<text x="300.6" y="680.3" font-size="34.7" text-anchor="middle">2</text>
<text x="377" y="680.3" font-size="34.7" text-anchor="middle">0</text>
<text x="464.05" y="680.3" font-size="34.7" text-anchor="middle">1</text>
<text x="551.1" y="680.3" font-size="34.7" text-anchor="middle">2</text>
<text x="127" y="966.9" font-size="34.7" text-anchor="middle">0</text>
<text x="214.1" y="966.9" font-size="34.7" text-anchor="middle">1</text>
<text x="301.2" y="966.9" font-size="34.7" text-anchor="middle">2</text>
<text x="377" y="966.9" font-size="34.7" text-anchor="middle">0</text>
<text x="464.05" y="966.9" font-size="34.7" text-anchor="middle">1</text>
<text x="551.1" y="966.9" font-size="34.7" text-anchor="middle">2</text>
<text x="577.9 596.6" y="69.7" font-size="34.7">10<tspan dy="-14.4" dx="1.6" font-size="24.8">2</tspan></text>
<text x="577.9 596.6" y="140.3" font-size="34.7">10<tspan dy="-14.4" dx="1.6" font-size="24.8">1</tspan></text>
<text x="577.9 596.6" y="211.2" font-size="34.7">10<tspan dy="-14.4" dx="1.6" font-size="24.8">0</tspan></text>
<text x="577.9 596.6" y="272.4" font-size="34.7">10<tspan dy="-14.4" dx="1.6" font-size="24.8">2</tspan></text>
<text x="577.9 596.6" y="344.6" font-size="34.7">10<tspan dy="-14.4" dx="1.6" font-size="24.8">1</tspan></text>
<text x="577.9 596.6" y="416.7" font-size="34.7">10<tspan dy="-14.4" dx="1.6" font-size="24.8">0</tspan></text>
<text x="577.9 596.6" y="477.6" font-size="34.7">10<tspan dy="-14.4" dx="1.6" font-size="24.8">2</tspan></text>
<text x="577.9 596.6" y="549.7" font-size="34.7">10<tspan dy="-14.4" dx="1.6" font-size="24.8">1</tspan></text>
<text x="577.9 596.6" y="621.7" font-size="34.7">10<tspan dy="-14.4" dx="1.6" font-size="24.8">0</tspan></text>
<text x="577.9 596.6" y="763.5" font-size="34.7">10<tspan dy="-14.4" dx="1.6" font-size="24.8">2</tspan></text>
<text x="577.9 596.6" y="836.7" font-size="34.7">10<tspan dy="-14.4" dx="1.6" font-size="24.8">1</tspan></text>
<text x="577.9 596.6" y="909.5" font-size="34.7">10<tspan dy="-14.4" dx="1.6" font-size="24.8">0</tspan></text>
<text transform="matrix(0.3444 0 0 0.3848 181.98 27.92)" font-size="100" font-weight="bold" font-style="normal">CF</text>
<text transform="matrix(0.3453 0 0 0.3848 404.51 27.92)" font-size="100" font-weight="bold" font-style="normal">NCFB</text>
<text transform="matrix(0.3674 0 0 0.3123 168.20 701.54)" font-size="100" font-weight="bold" font-style="normal">g</text>
<path d="M188.9 684.5L192.9 684.5L191.86 692.1L189.94 692.1Z" fill="#000"/>
<text transform="matrix(0.2540 0 0 0.2746 197.68 717.75)" font-size="100" font-weight="normal" font-style="normal" stroke="#000" stroke-width="2.4">5%</text>
<text transform="matrix(0.3920 0 0 0.3671 183.93 997.33)" font-size="100" font-weight="bold" font-style="normal">d</text>
<text transform="matrix(0.3128 0 0 0.2917 205.36 1012.01)" font-size="100" font-weight="bold" font-style="normal">c</text>
<text transform="matrix(0.3674 0 0 0.3123 418.20 701.54)" font-size="100" font-weight="bold" font-style="normal">g</text>
<path d="M438.9 684.5L442.9 684.5L441.86 692.1L439.94 692.1Z" fill="#000"/>
<text transform="matrix(0.2540 0 0 0.2746 447.68 717.75)" font-size="100" font-weight="normal" font-style="normal" stroke="#000" stroke-width="2.4">5%</text>
<text transform="matrix(0.3920 0 0 0.3671 433.93 997.33)" font-size="100" font-weight="bold" font-style="normal">d</text>
<text transform="matrix(0.3128 0 0 0.2917 455.36 1012.01)" font-size="100" font-weight="bold" font-style="normal">c</text>
<text transform="matrix(0 -0.3826 0.3356 0 27.55 172.45)" font-size="100" font-weight="bold" font-style="normal">g</text>
<path d="M2.7 140.7L2.7 143.7L12.1 142.92L12.1 141.48Z" fill="#000"/>
<path d="M2.7 148.1L2.7 151.4L12.1 150.54L12.1 148.96Z" fill="#000"/>
<text transform="matrix(0 -0.2524 0.2806 0 42.94 135.41)" font-size="100" font-weight="normal" font-style="normal" stroke="#000" stroke-width="2.4">5%</text>
<text transform="matrix(0 -0.3900 0.3786 0 29.52 356.86)" font-size="100" font-weight="bold" font-style="normal">d</text>
<text transform="matrix(0 -0.3000 0.2979 0 44.50 335.20)" font-size="100" font-weight="bold" font-style="normal">c</text>
<text transform="matrix(0 -0.4182 0.3708 0 27.83 559.95)" font-size="100" font-weight="bold" font-style="normal">s</text>
<text transform="matrix(0 -0.2897 0.2979 0 43.20 542.57)" font-size="100" font-weight="bold" font-style="normal">c</text>
<text transform="matrix(0 -0.4212 0.3708 0 28.63 846.76)" font-size="100" font-weight="bold" font-style="normal">s</text>
<text transform="matrix(0 -0.2897 0.2979 0 44.10 829.77)" font-size="100" font-weight="bold" font-style="normal">c</text>
<text transform="matrix(0 -0.3200 0.3939 0 667.71 207.50)" font-size="100" font-weight="bold" font-style="normal">G</text>
<path d="M641.2 169.6L641.2 173.8L651.2 172.71L651.2 170.69Z" fill="#000"/>
<path d="M641.2 176.3L641.2 181.2L651.2 179.93L651.2 177.57Z" fill="#000"/>
<text transform="matrix(0 -0.2629 0.2687 0 682.46 166.38)" font-size="100" font-weight="normal" font-style="normal" stroke="#000" stroke-width="2.4">5%</text>
<text transform="matrix(0 -0.3331 0.3278 0 664.52 120.73)" font-size="100" font-weight="bold" font-style="normal">(Pa)</text>
<path d="M653.3 341.9L662 346.3" stroke="#000" stroke-width="1.5" fill="none" stroke-linecap="round"/>
<path d="M660.5 345.6Q666 347.7 669.5 348.6L672.3 349.5" stroke="#000" stroke-width="1.95" fill="none" stroke-linecap="round"/>
<circle cx="672.0" cy="349.6" r="1.2" fill="#000"/>
<path d="M662.5 346.6C656.5 347.2 653.3 350.2 653.4 353.3C653.5 355.9 655.5 357.7 658.6 358.9" stroke="#000" stroke-width="2.1" fill="none"/>
<text transform="matrix(0 -0.2974 0.2979 0 682.20 342.59)" font-size="100" font-weight="bold" font-style="normal">c</text>
<text transform="matrix(0 -0.3264 0.2792 0 667.32 595.18)" font-size="100" font-weight="bold" font-style="italic">σ</text>
<text transform="matrix(0 -0.2949 0.2938 0 682.01 575.88)" font-size="100" font-weight="bold" font-style="normal">c</text>
<text transform="matrix(0 -0.3373 0.3278 0 664.52 551.45)" font-size="100" font-weight="bold" font-style="normal">(Pa)</text>
<text transform="matrix(0 -0.3377 0.2792 0 667.32 882.11)" font-size="100" font-weight="bold" font-style="italic">σ</text>
<text transform="matrix(0 -0.2949 0.2938 0 682.01 862.78)" font-size="100" font-weight="bold" font-style="normal">c</text>
<text transform="matrix(0 -0.3331 0.3278 0 664.52 838.33)" font-size="100" font-weight="bold" font-style="normal">(Pa)</text>
</svg></body></html>
